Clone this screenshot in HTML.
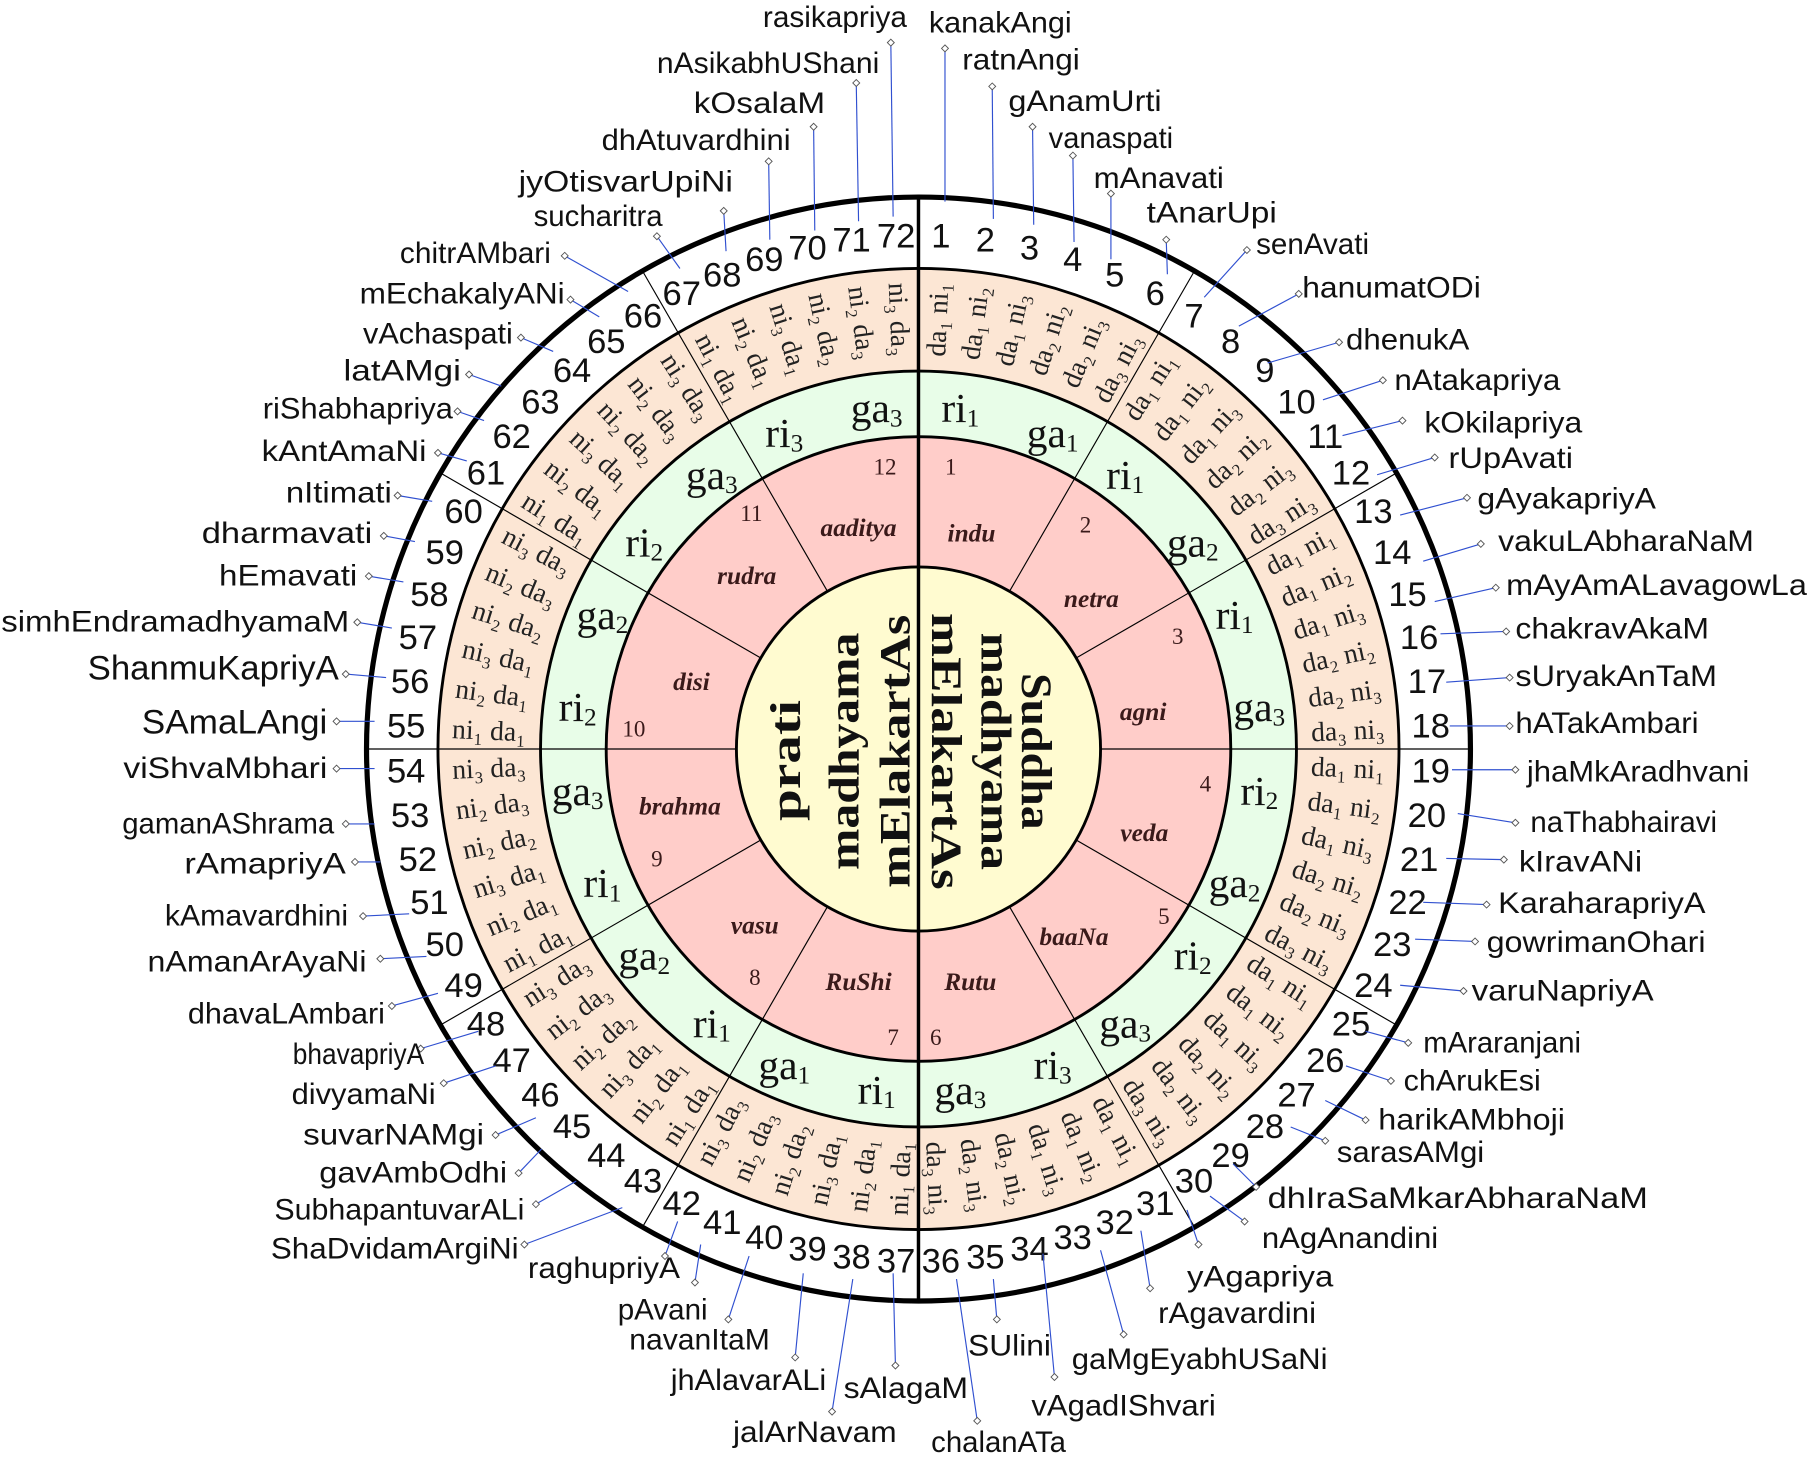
<!DOCTYPE html>
<html><head><meta charset="utf-8"><style>
html,body{margin:0;padding:0;background:#fff}
svg{display:block}
.n{font-family:"Liberation Sans",sans-serif;font-size:26px;fill:#111;dominant-baseline:central}
.o{font-family:"Liberation Sans",sans-serif;font-size:30px;fill:#111;text-anchor:middle;dominant-baseline:central}
.p{font-family:"Liberation Serif",serif;font-size:24px;fill:#222;text-anchor:middle;dominant-baseline:central}
.g{font-family:"Liberation Serif",serif;font-size:36px;fill:#111;text-anchor:middle;dominant-baseline:central}
.c{font-family:"Liberation Serif",serif;font-size:22px;font-weight:bold;font-style:italic;fill:#3a1a1a;text-anchor:middle;dominant-baseline:central}
.cn{font-family:"Liberation Serif",serif;font-size:20px;fill:#3a1a1a;text-anchor:middle;dominant-baseline:central}
.y{font-family:"Liberation Serif",serif;font-size:38px;font-weight:bold;fill:#111;text-anchor:middle;dominant-baseline:central}
.l{stroke:#3050d0;stroke-width:1}
</style></head><body>
<svg width="1807" height="1460" viewBox="0 0 1568 1267" xmlns="http://www.w3.org/2000/svg">
<defs><path id="d" d="M-3 0L0-3L3 0L0 3Z" fill="#fff" stroke="#555" stroke-width="0.8"/></defs>
<circle cx="797" cy="650" r="479" fill="#fff" stroke="#000" stroke-width="4.5"/>
<circle cx="797" cy="650" r="417" fill="#fce6d4" stroke="#000" stroke-width="2.5"/>
<circle cx="797" cy="650" r="328" fill="#e8fde8" stroke="#000" stroke-width="2.5"/>
<circle cx="797" cy="650" r="271" fill="#ffcdc9" stroke="#000" stroke-width="2.5"/>
<circle cx="797" cy="650" r="158" fill="#fffbd0" stroke="#000" stroke-width="2.5"/>
<g stroke="#000" stroke-width="1">
<line x1="797" y1="492" x2="797" y2="171" transform="rotate(30 797 650)"/>
<line x1="797" y1="492" x2="797" y2="171" transform="rotate(60 797 650)"/>
<line x1="797" y1="492" x2="797" y2="171" transform="rotate(90 797 650)"/>
<line x1="797" y1="492" x2="797" y2="171" transform="rotate(120 797 650)"/>
<line x1="797" y1="492" x2="797" y2="171" transform="rotate(150 797 650)"/>
<line x1="797" y1="492" x2="797" y2="171" transform="rotate(210 797 650)"/>
<line x1="797" y1="492" x2="797" y2="171" transform="rotate(240 797 650)"/>
<line x1="797" y1="492" x2="797" y2="171" transform="rotate(270 797 650)"/>
<line x1="797" y1="492" x2="797" y2="171" transform="rotate(300 797 650)"/>
<line x1="797" y1="492" x2="797" y2="171" transform="rotate(330 797 650)"/>
</g>
<line x1="797" y1="171" x2="797" y2="1129" stroke="#000" stroke-width="3"/>

<text class="y" transform="translate(899 652) rotate(90)" textLength="136" lengthAdjust="spacingAndGlyphs">Suddha</text>
<text class="y" transform="translate(864 652) rotate(90)" textLength="206" lengthAdjust="spacingAndGlyphs">madhyama</text>
<text class="y" transform="translate(821 652) rotate(90)" textLength="240" lengthAdjust="spacingAndGlyphs">mElakartAs</text>
<text class="y" transform="translate(682 660) rotate(-90)" textLength="105" lengthAdjust="spacingAndGlyphs">prati</text>
<text class="y" transform="translate(733 652) rotate(-90)" textLength="206" lengthAdjust="spacingAndGlyphs">madhyama</text>
<text class="y" transform="translate(777 652) rotate(-90)" textLength="237" lengthAdjust="spacingAndGlyphs">mElakartAs</text>

<text class="c" x="843" y="463">indu</text>
<text class="c" x="947" y="520">netra</text>
<text class="c" x="992" y="618">agni</text>
<text class="c" x="993" y="723">veda</text>
<text class="c" x="932" y="813">baaNa</text>
<text class="c" x="842" y="852">Rutu</text>
<text class="c" x="745" y="852">RuShi</text>
<text class="c" x="655" y="803">vasu</text>
<text class="c" x="590" y="700">brahma</text>
<text class="c" x="600" y="592">disi</text>
<text class="c" x="648" y="500">rudra</text>
<text class="c" x="745" y="458">aaditya</text>
<text class="cn" x="825" y="405">1</text>
<text class="cn" x="942" y="455">2</text>
<text class="cn" x="1022" y="552">3</text>
<text class="cn" x="1046" y="680">4</text>
<text class="cn" x="1010" y="795">5</text>
<text class="cn" x="812" y="900">6</text>
<text class="cn" x="775" y="900">7</text>
<text class="cn" x="655" y="848">8</text>
<text class="cn" x="570" y="745">9</text>
<text class="cn" x="550" y="632">10</text>
<text class="cn" x="652" y="445">11</text>
<text class="cn" x="768" y="405">12</text>

<g class="g">
<text transform="rotate(7 797 650) translate(797 352) rotate(-7)">ri<tspan font-size="22" dy="9">1</tspan></text>
<text transform="rotate(23 797 650) translate(797 352) rotate(-23)">ga<tspan font-size="22" dy="9">1</tspan></text>
<text transform="rotate(37 797 650) translate(797 352) rotate(-37)">ri<tspan font-size="22" dy="9">1</tspan></text>
<text transform="rotate(53 797 650) translate(797 352) rotate(-53)">ga<tspan font-size="22" dy="9">2</tspan></text>
<text transform="rotate(67 797 650) translate(797 352) rotate(-67)">ri<tspan font-size="22" dy="9">1</tspan></text>
<text transform="rotate(83 797 650) translate(797 352) rotate(-83)">ga<tspan font-size="22" dy="9">3</tspan></text>
<text transform="rotate(97 797 650) translate(797 352) rotate(-97)">ri<tspan font-size="22" dy="9">2</tspan></text>
<text transform="rotate(113 797 650) translate(797 352) rotate(-113)">ga<tspan font-size="22" dy="9">2</tspan></text>
<text transform="rotate(127 797 650) translate(797 352) rotate(-127)">ri<tspan font-size="22" dy="9">2</tspan></text>
<text transform="rotate(143 797 650) translate(797 352) rotate(-143)">ga<tspan font-size="22" dy="9">3</tspan></text>
<text transform="rotate(157 797 650) translate(797 352) rotate(-157)">ri<tspan font-size="22" dy="9">3</tspan></text>
<text transform="rotate(173 797 650) translate(797 352) rotate(-173)">ga<tspan font-size="22" dy="9">3</tspan></text>
<text transform="rotate(187 797 650) translate(797 352) rotate(-187)">ri<tspan font-size="22" dy="9">1</tspan></text>
<text transform="rotate(203 797 650) translate(797 352) rotate(-203)">ga<tspan font-size="22" dy="9">1</tspan></text>
<text transform="rotate(217 797 650) translate(797 352) rotate(-217)">ri<tspan font-size="22" dy="9">1</tspan></text>
<text transform="rotate(233 797 650) translate(797 352) rotate(-233)">ga<tspan font-size="22" dy="9">2</tspan></text>
<text transform="rotate(247 797 650) translate(797 352) rotate(-247)">ri<tspan font-size="22" dy="9">1</tspan></text>
<text transform="rotate(263 797 650) translate(797 352) rotate(-263)">ga<tspan font-size="22" dy="9">3</tspan></text>
<text transform="rotate(277 797 650) translate(797 352) rotate(-277)">ri<tspan font-size="22" dy="9">2</tspan></text>
<text transform="rotate(293 797 650) translate(797 352) rotate(-293)">ga<tspan font-size="22" dy="9">2</tspan></text>
<text transform="rotate(307 797 650) translate(797 352) rotate(-307)">ri<tspan font-size="22" dy="9">2</tspan></text>
<text transform="rotate(323 797 650) translate(797 352) rotate(-323)">ga<tspan font-size="22" dy="9">3</tspan></text>
<text transform="rotate(337 797 650) translate(797 352) rotate(-337)">ri<tspan font-size="22" dy="9">3</tspan></text>
<text transform="rotate(353 797 650) translate(797 352) rotate(-353)">ga<tspan font-size="22" dy="9">3</tspan></text>
</g>

<g class="p">
<text transform="rotate(2.5 797 650) translate(797 277) rotate(-90)">da₁ ni₁</text>
<text transform="rotate(7.5 797 650) translate(797 277) rotate(-90)">da₁ ni₂</text>
<text transform="rotate(12.5 797 650) translate(797 277) rotate(-90)">da₁ ni₃</text>
<text transform="rotate(17.5 797 650) translate(797 277) rotate(-90)">da₂ ni₂</text>
<text transform="rotate(22.5 797 650) translate(797 277) rotate(-90)">da₂ ni₃</text>
<text transform="rotate(27.5 797 650) translate(797 277) rotate(-90)">da₃ ni₃</text>
<text transform="rotate(32.5 797 650) translate(797 277) rotate(-90)">da₁ ni₁</text>
<text transform="rotate(37.5 797 650) translate(797 277) rotate(-90)">da₁ ni₂</text>
<text transform="rotate(42.5 797 650) translate(797 277) rotate(-90)">da₁ ni₃</text>
<text transform="rotate(47.5 797 650) translate(797 277) rotate(-90)">da₂ ni₂</text>
<text transform="rotate(52.5 797 650) translate(797 277) rotate(-90)">da₂ ni₃</text>
<text transform="rotate(57.5 797 650) translate(797 277) rotate(-90)">da₃ ni₃</text>
<text transform="rotate(62.5 797 650) translate(797 277) rotate(-90)">da₁ ni₁</text>
<text transform="rotate(67.5 797 650) translate(797 277) rotate(-90)">da₁ ni₂</text>
<text transform="rotate(72.5 797 650) translate(797 277) rotate(-90)">da₁ ni₃</text>
<text transform="rotate(77.5 797 650) translate(797 277) rotate(-90)">da₂ ni₂</text>
<text transform="rotate(82.5 797 650) translate(797 277) rotate(-90)">da₂ ni₃</text>
<text transform="rotate(87.5 797 650) translate(797 277) rotate(-90)">da₃ ni₃</text>
<text transform="rotate(92.5 797 650) translate(797 277) rotate(-90)">da₁ ni₁</text>
<text transform="rotate(97.5 797 650) translate(797 277) rotate(-90)">da₁ ni₂</text>
<text transform="rotate(102.5 797 650) translate(797 277) rotate(-90)">da₁ ni₃</text>
<text transform="rotate(107.5 797 650) translate(797 277) rotate(-90)">da₂ ni₂</text>
<text transform="rotate(112.5 797 650) translate(797 277) rotate(-90)">da₂ ni₃</text>
<text transform="rotate(117.5 797 650) translate(797 277) rotate(-90)">da₃ ni₃</text>
<text transform="rotate(122.5 797 650) translate(797 277) rotate(-90)">da₁ ni₁</text>
<text transform="rotate(127.5 797 650) translate(797 277) rotate(-90)">da₁ ni₂</text>
<text transform="rotate(132.5 797 650) translate(797 277) rotate(-90)">da₁ ni₃</text>
<text transform="rotate(137.5 797 650) translate(797 277) rotate(-90)">da₂ ni₂</text>
<text transform="rotate(142.5 797 650) translate(797 277) rotate(-90)">da₂ ni₃</text>
<text transform="rotate(147.5 797 650) translate(797 277) rotate(-90)">da₃ ni₃</text>
<text transform="rotate(152.5 797 650) translate(797 277) rotate(-90)">da₁ ni₁</text>
<text transform="rotate(157.5 797 650) translate(797 277) rotate(-90)">da₁ ni₂</text>
<text transform="rotate(162.5 797 650) translate(797 277) rotate(-90)">da₁ ni₃</text>
<text transform="rotate(167.5 797 650) translate(797 277) rotate(-90)">da₂ ni₂</text>
<text transform="rotate(172.5 797 650) translate(797 277) rotate(-90)">da₂ ni₃</text>
<text transform="rotate(177.5 797 650) translate(797 277) rotate(-90)">da₃ ni₃</text>
<text transform="rotate(182.5 797 650) translate(797 277) rotate(90)">ni₁ da₁</text>
<text transform="rotate(187.5 797 650) translate(797 277) rotate(90)">ni₂ da₁</text>
<text transform="rotate(192.5 797 650) translate(797 277) rotate(90)">ni₃ da₁</text>
<text transform="rotate(197.5 797 650) translate(797 277) rotate(90)">ni₂ da₂</text>
<text transform="rotate(202.5 797 650) translate(797 277) rotate(90)">ni₂ da₃</text>
<text transform="rotate(207.5 797 650) translate(797 277) rotate(90)">ni₃ da₃</text>
<text transform="rotate(212.5 797 650) translate(797 277) rotate(90)">ni₁ da₁</text>
<text transform="rotate(217.5 797 650) translate(797 277) rotate(90)">ni₂ da₁</text>
<text transform="rotate(222.5 797 650) translate(797 277) rotate(90)">ni₃ da₁</text>
<text transform="rotate(227.5 797 650) translate(797 277) rotate(90)">ni₂ da₂</text>
<text transform="rotate(232.5 797 650) translate(797 277) rotate(90)">ni₂ da₃</text>
<text transform="rotate(237.5 797 650) translate(797 277) rotate(90)">ni₃ da₃</text>
<text transform="rotate(242.5 797 650) translate(797 277) rotate(90)">ni₁ da₁</text>
<text transform="rotate(247.5 797 650) translate(797 277) rotate(90)">ni₂ da₁</text>
<text transform="rotate(252.5 797 650) translate(797 277) rotate(90)">ni₃ da₁</text>
<text transform="rotate(257.5 797 650) translate(797 277) rotate(90)">ni₂ da₂</text>
<text transform="rotate(262.5 797 650) translate(797 277) rotate(90)">ni₂ da₃</text>
<text transform="rotate(267.5 797 650) translate(797 277) rotate(90)">ni₃ da₃</text>
<text transform="rotate(272.5 797 650) translate(797 277) rotate(90)">ni₁ da₁</text>
<text transform="rotate(277.5 797 650) translate(797 277) rotate(90)">ni₂ da₁</text>
<text transform="rotate(282.5 797 650) translate(797 277) rotate(90)">ni₃ da₁</text>
<text transform="rotate(287.5 797 650) translate(797 277) rotate(90)">ni₂ da₂</text>
<text transform="rotate(292.5 797 650) translate(797 277) rotate(90)">ni₂ da₃</text>
<text transform="rotate(297.5 797 650) translate(797 277) rotate(90)">ni₃ da₃</text>
<text transform="rotate(302.5 797 650) translate(797 277) rotate(90)">ni₁ da₁</text>
<text transform="rotate(307.5 797 650) translate(797 277) rotate(90)">ni₂ da₁</text>
<text transform="rotate(312.5 797 650) translate(797 277) rotate(90)">ni₃ da₁</text>
<text transform="rotate(317.5 797 650) translate(797 277) rotate(90)">ni₂ da₂</text>
<text transform="rotate(322.5 797 650) translate(797 277) rotate(90)">ni₂ da₃</text>
<text transform="rotate(327.5 797 650) translate(797 277) rotate(90)">ni₃ da₃</text>
<text transform="rotate(332.5 797 650) translate(797 277) rotate(90)">ni₁ da₁</text>
<text transform="rotate(337.5 797 650) translate(797 277) rotate(90)">ni₂ da₁</text>
<text transform="rotate(342.5 797 650) translate(797 277) rotate(90)">ni₃ da₁</text>
<text transform="rotate(347.5 797 650) translate(797 277) rotate(90)">ni₂ da₂</text>
<text transform="rotate(352.5 797 650) translate(797 277) rotate(90)">ni₂ da₃</text>
<text transform="rotate(357.5 797 650) translate(797 277) rotate(90)">ni₃ da₃</text>
</g>

<g class="o">
<text transform="rotate(2.5 797 650) translate(797 205) rotate(-2.5)">1</text>
<text transform="rotate(7.5 797 650) translate(797 205) rotate(-7.5)">2</text>
<text transform="rotate(12.5 797 650) translate(797 205) rotate(-12.5)">3</text>
<text transform="rotate(17.5 797 650) translate(797 205) rotate(-17.5)">4</text>
<text transform="rotate(22.5 797 650) translate(797 205) rotate(-22.5)">5</text>
<text transform="rotate(27.5 797 650) translate(797 205) rotate(-27.5)">6</text>
<text transform="rotate(32.5 797 650) translate(797 205) rotate(-32.5)">7</text>
<text transform="rotate(37.5 797 650) translate(797 205) rotate(-37.5)">8</text>
<text transform="rotate(42.5 797 650) translate(797 205) rotate(-42.5)">9</text>
<text transform="rotate(47.5 797 650) translate(797 205) rotate(-47.5)">10</text>
<text transform="rotate(52.5 797 650) translate(797 205) rotate(-52.5)">11</text>
<text transform="rotate(57.5 797 650) translate(797 205) rotate(-57.5)">12</text>
<text transform="rotate(62.5 797 650) translate(797 205) rotate(-62.5)">13</text>
<text transform="rotate(67.5 797 650) translate(797 205) rotate(-67.5)">14</text>
<text transform="rotate(72.5 797 650) translate(797 205) rotate(-72.5)">15</text>
<text transform="rotate(77.5 797 650) translate(797 205) rotate(-77.5)">16</text>
<text transform="rotate(82.5 797 650) translate(797 205) rotate(-82.5)">17</text>
<text transform="rotate(87.5 797 650) translate(797 205) rotate(-87.5)">18</text>
<text transform="rotate(92.5 797 650) translate(797 205) rotate(-92.5)">19</text>
<text transform="rotate(97.5 797 650) translate(797 205) rotate(-97.5)">20</text>
<text transform="rotate(102.5 797 650) translate(797 205) rotate(-102.5)">21</text>
<text transform="rotate(107.5 797 650) translate(797 205) rotate(-107.5)">22</text>
<text transform="rotate(112.5 797 650) translate(797 205) rotate(-112.5)">23</text>
<text transform="rotate(117.5 797 650) translate(797 205) rotate(-117.5)">24</text>
<text transform="rotate(122.5 797 650) translate(797 205) rotate(-122.5)">25</text>
<text transform="rotate(127.5 797 650) translate(797 205) rotate(-127.5)">26</text>
<text transform="rotate(132.5 797 650) translate(797 205) rotate(-132.5)">27</text>
<text transform="rotate(137.5 797 650) translate(797 205) rotate(-137.5)">28</text>
<text transform="rotate(142.5 797 650) translate(797 205) rotate(-142.5)">29</text>
<text transform="rotate(147.5 797 650) translate(797 205) rotate(-147.5)">30</text>
<text transform="rotate(152.5 797 650) translate(797 205) rotate(-152.5)">31</text>
<text transform="rotate(157.5 797 650) translate(797 205) rotate(-157.5)">32</text>
<text transform="rotate(162.5 797 650) translate(797 205) rotate(-162.5)">33</text>
<text transform="rotate(167.5 797 650) translate(797 205) rotate(-167.5)">34</text>
<text transform="rotate(172.5 797 650) translate(797 205) rotate(-172.5)">35</text>
<text transform="rotate(177.5 797 650) translate(797 205) rotate(-177.5)">36</text>
<text transform="rotate(182.5 797 650) translate(797 205) rotate(-182.5)">37</text>
<text transform="rotate(187.5 797 650) translate(797 205) rotate(-187.5)">38</text>
<text transform="rotate(192.5 797 650) translate(797 205) rotate(-192.5)">39</text>
<text transform="rotate(197.5 797 650) translate(797 205) rotate(-197.5)">40</text>
<text transform="rotate(202.5 797 650) translate(797 205) rotate(-202.5)">41</text>
<text transform="rotate(207.5 797 650) translate(797 205) rotate(-207.5)">42</text>
<text transform="rotate(212.5 797 650) translate(797 205) rotate(-212.5)">43</text>
<text transform="rotate(217.5 797 650) translate(797 205) rotate(-217.5)">44</text>
<text transform="rotate(222.5 797 650) translate(797 205) rotate(-222.5)">45</text>
<text transform="rotate(227.5 797 650) translate(797 205) rotate(-227.5)">46</text>
<text transform="rotate(232.5 797 650) translate(797 205) rotate(-232.5)">47</text>
<text transform="rotate(237.5 797 650) translate(797 205) rotate(-237.5)">48</text>
<text transform="rotate(242.5 797 650) translate(797 205) rotate(-242.5)">49</text>
<text transform="rotate(247.5 797 650) translate(797 205) rotate(-247.5)">50</text>
<text transform="rotate(252.5 797 650) translate(797 205) rotate(-252.5)">51</text>
<text transform="rotate(257.5 797 650) translate(797 205) rotate(-257.5)">52</text>
<text transform="rotate(262.5 797 650) translate(797 205) rotate(-262.5)">53</text>
<text transform="rotate(267.5 797 650) translate(797 205) rotate(-267.5)">54</text>
<text transform="rotate(272.5 797 650) translate(797 205) rotate(-272.5)">55</text>
<text transform="rotate(277.5 797 650) translate(797 205) rotate(-277.5)">56</text>
<text transform="rotate(282.5 797 650) translate(797 205) rotate(-282.5)">57</text>
<text transform="rotate(287.5 797 650) translate(797 205) rotate(-287.5)">58</text>
<text transform="rotate(292.5 797 650) translate(797 205) rotate(-292.5)">59</text>
<text transform="rotate(297.5 797 650) translate(797 205) rotate(-297.5)">60</text>
<text transform="rotate(302.5 797 650) translate(797 205) rotate(-302.5)">61</text>
<text transform="rotate(307.5 797 650) translate(797 205) rotate(-307.5)">62</text>
<text transform="rotate(312.5 797 650) translate(797 205) rotate(-312.5)">63</text>
<text transform="rotate(317.5 797 650) translate(797 205) rotate(-317.5)">64</text>
<text transform="rotate(322.5 797 650) translate(797 205) rotate(-322.5)">65</text>
<text transform="rotate(327.5 797 650) translate(797 205) rotate(-327.5)">66</text>
<text transform="rotate(332.5 797 650) translate(797 205) rotate(-332.5)">67</text>
<text transform="rotate(337.5 797 650) translate(797 205) rotate(-337.5)">68</text>
<text transform="rotate(342.5 797 650) translate(797 205) rotate(-342.5)">69</text>
<text transform="rotate(347.5 797 650) translate(797 205) rotate(-347.5)">70</text>
<text transform="rotate(352.5 797 650) translate(797 205) rotate(-352.5)">71</text>
<text transform="rotate(357.5 797 650) translate(797 205) rotate(-357.5)">72</text>
</g>

<g class="l">
<line x1="820" y1="175" x2="820" y2="42"/><line x1="862" y1="190" x2="861" y2="75"/><line x1="897" y1="195" x2="896" y2="110"/><line x1="932" y1="210" x2="931" y2="135"/><line x1="964" y1="225" x2="964" y2="168"/><line x1="1013" y1="238" x2="1012" y2="208"/>
<line x1="1045" y1="258" x2="1082" y2="217"/><line x1="1075" y1="283" x2="1127" y2="255"/><line x1="1100" y1="315" x2="1162" y2="297"/><line x1="1148" y1="347" x2="1200" y2="330"/><line x1="1165" y1="378" x2="1217" y2="365"/><line x1="1195" y1="412" x2="1245" y2="397"/>
<line x1="1215" y1="447" x2="1273" y2="432"/><line x1="1235" y1="487" x2="1285" y2="472"/><line x1="1245" y1="522" x2="1298" y2="510"/><line x1="1250" y1="550" x2="1307" y2="548"/><line x1="1255" y1="592" x2="1310" y2="588"/><line x1="1258" y1="630" x2="1310" y2="630"/>
<line x1="1260" y1="668" x2="1315" y2="668"/><line x1="1265" y1="706" x2="1315" y2="714"/><line x1="1255" y1="745" x2="1305" y2="746"/><line x1="1235" y1="783" x2="1290" y2="785"/><line x1="1228" y1="815" x2="1280" y2="817"/><line x1="1215" y1="855" x2="1270" y2="860"/>
<line x1="1185" y1="895" x2="1222" y2="905"/><line x1="1168" y1="925" x2="1207" y2="938"/><line x1="1150" y1="955" x2="1185" y2="972"/><line x1="1120" y1="978" x2="1150" y2="990"/><line x1="1070" y1="1010" x2="1090" y2="1030"/><line x1="1050" y1="1038" x2="1080" y2="1060"/>
<line x1="1030" y1="1050" x2="1040" y2="1080"/><line x1="990" y1="1068" x2="998" y2="1118"/><line x1="955" y1="1085" x2="975" y2="1158"/><line x1="905" y1="1088" x2="915" y2="1195"/><line x1="862" y1="1110" x2="865" y2="1145"/><line x1="830" y1="1110" x2="848" y2="1233"/>
<line x1="775" y1="1105" x2="777" y2="1185"/><line x1="740" y1="1110" x2="722" y2="1225"/><line x1="697" y1="1105" x2="690" y2="1178"/><line x1="650" y1="1090" x2="632" y2="1145"/><line x1="608" y1="1080" x2="603" y2="1113"/><line x1="588" y1="1060" x2="577" y2="1090"/>
<line x1="540" y1="1048" x2="455" y2="1080"/><line x1="500" y1="1025" x2="465" y2="1045"/><line x1="470" y1="997" x2="450" y2="1018"/><line x1="465" y1="970" x2="430" y2="985"/><line x1="430" y1="925" x2="385" y2="940"/><line x1="415" y1="895" x2="365" y2="910"/>
<line x1="380" y1="862" x2="340" y2="873"/><line x1="370" y1="830" x2="330" y2="832"/><line x1="355" y1="793" x2="315" y2="795"/><line x1="330" y1="748" x2="308" y2="748"/><line x1="325" y1="715" x2="300" y2="715"/><line x1="325" y1="667" x2="292" y2="667"/>
<line x1="325" y1="626" x2="292" y2="626"/><line x1="335" y1="588" x2="300" y2="585"/><line x1="340" y1="545" x2="310" y2="540"/><line x1="350" y1="505" x2="320" y2="500"/><line x1="360" y1="470" x2="333" y2="465"/><line x1="375" y1="435" x2="345" y2="430"/>
<line x1="405" y1="400" x2="380" y2="393"/><line x1="420" y1="365" x2="397" y2="357"/><line x1="435" y1="335" x2="407" y2="325"/><line x1="480" y1="305" x2="452" y2="293"/><line x1="520" y1="275" x2="495" y2="260"/><line x1="545" y1="253" x2="490" y2="222"/>
<line x1="590" y1="233" x2="570" y2="205"/><line x1="630" y1="218" x2="628" y2="183"/><line x1="668" y1="208" x2="667" y2="140"/><line x1="707" y1="200" x2="706" y2="110"/><line x1="745" y1="192" x2="743" y2="72"/><line x1="775" y1="188" x2="773" y2="37"/>
</g>
<g>
<use href="#d" x="820" y="42"/><use href="#d" x="861" y="75"/><use href="#d" x="896" y="110"/><use href="#d" x="931" y="135"/><use href="#d" x="964" y="168"/><use href="#d" x="1012" y="208"/>
<use href="#d" x="1082" y="217"/><use href="#d" x="1127" y="255"/><use href="#d" x="1162" y="297"/><use href="#d" x="1200" y="330"/><use href="#d" x="1217" y="365"/><use href="#d" x="1245" y="397"/>
<use href="#d" x="1273" y="432"/><use href="#d" x="1285" y="472"/><use href="#d" x="1298" y="510"/><use href="#d" x="1307" y="548"/><use href="#d" x="1310" y="588"/><use href="#d" x="1310" y="630"/>
<use href="#d" x="1315" y="668"/><use href="#d" x="1315" y="714"/><use href="#d" x="1305" y="746"/><use href="#d" x="1290" y="785"/><use href="#d" x="1280" y="817"/><use href="#d" x="1270" y="860"/>
<use href="#d" x="1222" y="905"/><use href="#d" x="1207" y="938"/><use href="#d" x="1185" y="972"/><use href="#d" x="1150" y="990"/><use href="#d" x="1090" y="1030"/><use href="#d" x="1080" y="1060"/>
<use href="#d" x="1040" y="1080"/><use href="#d" x="998" y="1118"/><use href="#d" x="975" y="1158"/><use href="#d" x="915" y="1195"/><use href="#d" x="865" y="1145"/><use href="#d" x="848" y="1233"/>
<use href="#d" x="777" y="1185"/><use href="#d" x="722" y="1225"/><use href="#d" x="690" y="1178"/><use href="#d" x="632" y="1145"/><use href="#d" x="603" y="1113"/><use href="#d" x="577" y="1090"/>
<use href="#d" x="455" y="1080"/><use href="#d" x="465" y="1045"/><use href="#d" x="450" y="1018"/><use href="#d" x="430" y="985"/><use href="#d" x="385" y="940"/><use href="#d" x="365" y="910"/>
<use href="#d" x="340" y="873"/><use href="#d" x="330" y="832"/><use href="#d" x="315" y="795"/><use href="#d" x="308" y="748"/><use href="#d" x="300" y="715"/><use href="#d" x="292" y="667"/>
<use href="#d" x="292" y="626"/><use href="#d" x="300" y="585"/><use href="#d" x="310" y="540"/><use href="#d" x="320" y="500"/><use href="#d" x="333" y="465"/><use href="#d" x="345" y="430"/>
<use href="#d" x="380" y="393"/><use href="#d" x="397" y="357"/><use href="#d" x="407" y="325"/><use href="#d" x="452" y="293"/><use href="#d" x="495" y="260"/><use href="#d" x="490" y="222"/>
<use href="#d" x="570" y="205"/><use href="#d" x="628" y="183"/><use href="#d" x="667" y="140"/><use href="#d" x="706" y="110"/><use href="#d" x="743" y="72"/><use href="#d" x="773" y="37"/>
</g>

<g class="n">
<text x="806" y="20" textLength="124" lengthAdjust="spacingAndGlyphs">kanakAngi</text>
<text x="835" y="52" textLength="102" lengthAdjust="spacingAndGlyphs">ratnAngi</text>
<text x="875" y="88" textLength="133" lengthAdjust="spacingAndGlyphs">gAnamUrti</text>
<text x="910" y="120" textLength="108" lengthAdjust="spacingAndGlyphs">vanaspati</text>
<text x="949" y="155" textLength="113" lengthAdjust="spacingAndGlyphs">mAnavati</text>
<text x="995" y="185" textLength="113" lengthAdjust="spacingAndGlyphs">tAnarUpi</text>
<text x="1090" y="212" textLength="98" lengthAdjust="spacingAndGlyphs">senAvati</text>
<text x="1130" y="250" textLength="155" lengthAdjust="spacingAndGlyphs">hanumatODi</text>
<text x="1168" y="295" textLength="107" lengthAdjust="spacingAndGlyphs">dhenukA</text>
<text x="1210" y="330" textLength="144" lengthAdjust="spacingAndGlyphs">nAtakapriya</text>
<text x="1236" y="367" textLength="137" lengthAdjust="spacingAndGlyphs">kOkilapriya</text>
<text x="1257" y="398" textLength="108" lengthAdjust="spacingAndGlyphs">rUpAvati</text>
<text x="1282" y="433" textLength="155" lengthAdjust="spacingAndGlyphs">gAyakapriyA</text>
<text x="1300" y="470" textLength="222" lengthAdjust="spacingAndGlyphs">vakuLAbharaNaM</text>
<text x="1307" y="508" textLength="261" lengthAdjust="spacingAndGlyphs">mAyAmALavagowLa</text>
<text x="1315" y="546" textLength="168" lengthAdjust="spacingAndGlyphs">chakravAkaM</text>
<text x="1315" y="587" textLength="175" lengthAdjust="spacingAndGlyphs">sUryakAnTaM</text>
<text x="1315" y="628" textLength="159" lengthAdjust="spacingAndGlyphs">hATakAmbari</text>
<text x="1325" y="670" textLength="193" lengthAdjust="spacingAndGlyphs">jhaMkAradhvani</text>
<text x="1328" y="714" textLength="162" lengthAdjust="spacingAndGlyphs">naThabhairavi</text>
<text x="1318" y="748" textLength="107" lengthAdjust="spacingAndGlyphs">kIravANi</text>
<text x="1300" y="784" textLength="180" lengthAdjust="spacingAndGlyphs">KaraharapriyA</text>
<text x="1290" y="818" textLength="190" lengthAdjust="spacingAndGlyphs">gowrimanOhari</text>
<text x="1277" y="860" textLength="158" lengthAdjust="spacingAndGlyphs">varuNapriyA</text>
<text x="1235" y="905" textLength="137" lengthAdjust="spacingAndGlyphs">mAraranjani</text>
<text x="1218" y="938" textLength="119" lengthAdjust="spacingAndGlyphs">chArukEsi</text>
<text x="1196" y="972" textLength="162" lengthAdjust="spacingAndGlyphs">harikAMbhoji</text>
<text x="1160" y="1000" textLength="128" lengthAdjust="spacingAndGlyphs">sarasAMgi</text>
<text x="1100" y="1040" textLength="330" lengthAdjust="spacingAndGlyphs">dhIraSaMkarAbharaNaM</text>
<text x="1095" y="1075" textLength="153" lengthAdjust="spacingAndGlyphs">nAgAnandini</text>
<text x="1030" y="1108" textLength="127" lengthAdjust="spacingAndGlyphs">yAgapriya</text>
<text x="1005" y="1140" textLength="137" lengthAdjust="spacingAndGlyphs">rAgavardini</text>
<text x="930" y="1180" textLength="222" lengthAdjust="spacingAndGlyphs">gaMgEyabhUSaNi</text>
<text x="895" y="1220" textLength="160" lengthAdjust="spacingAndGlyphs">vAgadIShvari</text>
<text x="840" y="1168" textLength="72" lengthAdjust="spacingAndGlyphs">SUlini</text>
<text x="808" y="1252" textLength="117" lengthAdjust="spacingAndGlyphs">chalanATa</text>
<text x="732" y="1205" textLength="108" lengthAdjust="spacingAndGlyphs">sAlagaM</text>
<text x="636" y="1243" textLength="142" lengthAdjust="spacingAndGlyphs">jalArNavam</text>
<text x="582" y="1198" textLength="135" lengthAdjust="spacingAndGlyphs">jhAlavarALi</text>
<text x="546" y="1163" textLength="122" lengthAdjust="spacingAndGlyphs">navanItaM</text>
<text x="536" y="1137" textLength="78" lengthAdjust="spacingAndGlyphs">pAvani</text>
<text x="458" y="1101" textLength="132" lengthAdjust="spacingAndGlyphs">raghupriyA</text>
<text x="235" y="1084" textLength="215" lengthAdjust="spacingAndGlyphs">ShaDvidamArgiNi</text>
<text x="238" y="1050" textLength="217" lengthAdjust="spacingAndGlyphs">SubhapantuvarALi</text>
<text x="277" y="1018" textLength="163" lengthAdjust="spacingAndGlyphs">gavAmbOdhi</text>
<text x="263" y="985" textLength="157" lengthAdjust="spacingAndGlyphs">suvarNAMgi</text>
<text x="253" y="950" textLength="125" lengthAdjust="spacingAndGlyphs">divyamaNi</text>
<text x="254" y="915" textLength="114" lengthAdjust="spacingAndGlyphs">bhavapriyA</text>
<text x="163" y="880" textLength="171" lengthAdjust="spacingAndGlyphs">dhavaLAmbari</text>
<text x="128" y="835" textLength="190" lengthAdjust="spacingAndGlyphs">nAmanArAyaNi</text>
<text x="143" y="795" textLength="159" lengthAdjust="spacingAndGlyphs">kAmavardhini</text>
<text x="160" y="750" textLength="140" lengthAdjust="spacingAndGlyphs">rAmapriyA</text>
<text x="106" y="715" textLength="184" lengthAdjust="spacingAndGlyphs">gamanAShrama</text>
<text x="107" y="667" textLength="177" lengthAdjust="spacingAndGlyphs">viShvaMbhari</text>
<text x="123" y="627" textLength="161" lengthAdjust="spacingAndGlyphs" font-size="30">SAmaLAngi</text>
<text x="76" y="580" textLength="218" lengthAdjust="spacingAndGlyphs" font-size="30">ShanmuKapriyA</text>
<text x="1" y="540" textLength="302" lengthAdjust="spacingAndGlyphs">simhEndramadhyamaM</text>
<text x="190" y="500" textLength="120" lengthAdjust="spacingAndGlyphs">hEmavati</text>
<text x="175" y="463" textLength="148" lengthAdjust="spacingAndGlyphs">dharmavati</text>
<text x="248" y="428" textLength="92" lengthAdjust="spacingAndGlyphs">nItimati</text>
<text x="227" y="392" textLength="143" lengthAdjust="spacingAndGlyphs">kAntAmaNi</text>
<text x="228" y="355" textLength="165" lengthAdjust="spacingAndGlyphs">riShabhapriya</text>
<text x="298" y="322" textLength="102" lengthAdjust="spacingAndGlyphs">latAMgi</text>
<text x="315" y="290" textLength="130" lengthAdjust="spacingAndGlyphs">vAchaspati</text>
<text x="312" y="255" textLength="178" lengthAdjust="spacingAndGlyphs">mEchakalyANi</text>
<text x="347" y="220" textLength="131" lengthAdjust="spacingAndGlyphs">chitrAMbari</text>
<text x="463" y="188" textLength="112" lengthAdjust="spacingAndGlyphs">sucharitra</text>
<text x="450" y="158" textLength="186" lengthAdjust="spacingAndGlyphs">jyOtisvarUpiNi</text>
<text x="522" y="122" textLength="164" lengthAdjust="spacingAndGlyphs">dhAtuvardhini</text>
<text x="602" y="90" textLength="114" lengthAdjust="spacingAndGlyphs">kOsalaM</text>
<text x="570" y="55" textLength="193" lengthAdjust="spacingAndGlyphs">nAsikabhUShani</text>
<text x="662" y="15" textLength="125" lengthAdjust="spacingAndGlyphs">rasikapriya</text>
</g>
</svg>
</body></html>
